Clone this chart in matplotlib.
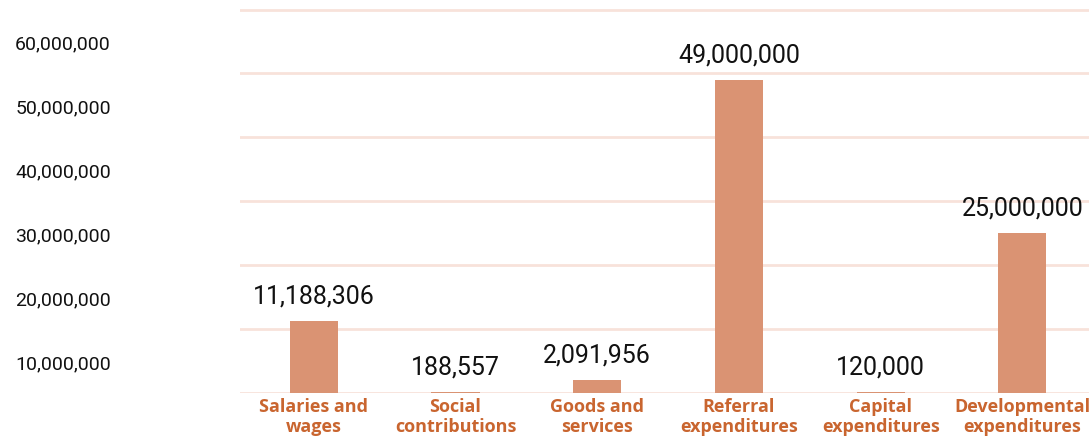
import matplotlib.pyplot as plt
import matplotlib.transforms as mtransforms

categories = ['Salaries and\nwages', 'Social\ncontributions', 'Goods and\nservices',
              'Referral\nexpenditures', 'Capital\nexpenditures', 'Developmental\nexpenditures']
values = [11188306, 188557, 2091956, 49000000, 120000, 25000000]
ytick_values = [10000000, 20000000, 30000000, 40000000, 50000000, 60000000]

bar_color = '#DA9373'
label_color = '#C9652F'
grid_color = '#F8E2DA'

plt.rcParams['font.family'] = ['Roboto', 'DejaVu Sans']

fig = plt.figure(figsize=(10.89, 4.44), dpi=100)
ax = fig.add_axes([0.2204, 0.115, 0.7796, 0.885])

x = list(range(len(categories)))
ax.bar(x, values, width=0.34, color=bar_color, zorder=2)

for xi, v in zip(x, values):
    ax.annotate(f'{v:,}', (xi, v), xytext=(0, 9), textcoords='offset points',
                ha='center', va='bottom', fontsize=18, color='#111111')

ax.set_xlim(-0.52, 5.47)
ax.set_ylim(0, 61500000)

ax.set_yticks(ytick_values)
ax.set_yticklabels([f'{v:,}' for v in ytick_values], fontsize=14, color='#111111')
ax.tick_params(axis='y', length=0, pad=93)
# labels sit halfway below their gridline in the original
offset = mtransforms.ScaledTranslation(0, -33 / 100, fig.dpi_scale_trans)
for lbl in ax.get_yticklabels():
    lbl.set_transform(lbl.get_transform() + offset)

ax.set_xticks(x)
ax.set_xticklabels(categories, fontsize=13, fontweight='bold', color=label_color,
                   linespacing=1.12, family=['Open Sans', 'DejaVu Sans'])
ax.tick_params(axis='x', length=0, pad=4)

ax.yaxis.grid(True, color=grid_color, linewidth=2)
ax.axhline(0, color=grid_color, linewidth=2, zorder=1)
ax.set_axisbelow(True)
for s in ax.spines.values():
    s.set_visible(False)

fig.savefig('out.png', dpi=100)
